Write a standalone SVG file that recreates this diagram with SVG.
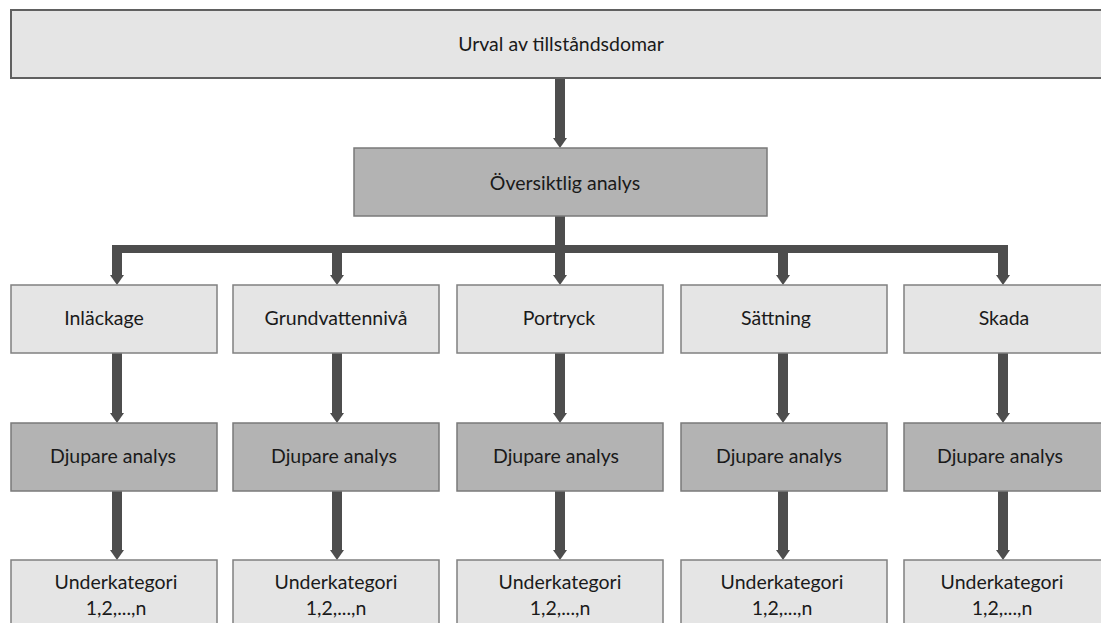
<svg xmlns="http://www.w3.org/2000/svg" width="1101" height="623" viewBox="0 0 1101 623">
<style>
.light{fill:#e5e5e5;stroke:#808080;stroke-width:1.5}
.dark{fill:#b3b3b3;stroke:#7a7a7a;stroke-width:1.5}
.top{fill:#e5e5e5;stroke:#606060;stroke-width:2}
.t{font-family:Lato,"Liberation Sans",sans-serif;font-size:19.5px;fill:#1a1a1a;text-anchor:middle}
.c line{stroke:#4d4d4d;stroke-width:10}
.c .bar{stroke-width:8}
</style>
<defs>
<marker id="ah" viewBox="0 0 10 14" refX="0" refY="7" markerWidth="10" markerHeight="14" markerUnits="userSpaceOnUse" orient="auto">
<path d="M0,0 L10,7 L0,14 z" fill="#4d4d4d"/>
</marker>
</defs>
<rect width="1101" height="623" fill="#ffffff"/>
<g id="connectors" class="c">
<line x1="560" y1="78" x2="560" y2="138" marker-end="url(#ah)"/>
<line x1="560" y1="216" x2="560" y2="275" marker-end="url(#ah)"/>
<line class="bar" x1="112" y1="249" x2="1008" y2="249"/>
<line x1="117" y1="249" x2="117" y2="275" marker-end="url(#ah)"/>
<line x1="337" y1="249" x2="337" y2="275" marker-end="url(#ah)"/>
<line x1="783" y1="249" x2="783" y2="275" marker-end="url(#ah)"/>
<line x1="1003" y1="249" x2="1003" y2="275" marker-end="url(#ah)"/>
<line x1="117" y1="353" x2="117" y2="413" marker-end="url(#ah)"/>
<line x1="337" y1="353" x2="337" y2="413" marker-end="url(#ah)"/>
<line x1="560" y1="353" x2="560" y2="413" marker-end="url(#ah)"/>
<line x1="783" y1="353" x2="783" y2="413" marker-end="url(#ah)"/>
<line x1="1003" y1="353" x2="1003" y2="413" marker-end="url(#ah)"/>
<line x1="117" y1="491" x2="117" y2="550" marker-end="url(#ah)"/>
<line x1="337" y1="491" x2="337" y2="550" marker-end="url(#ah)"/>
<line x1="560" y1="491" x2="560" y2="550" marker-end="url(#ah)"/>
<line x1="783" y1="491" x2="783" y2="550" marker-end="url(#ah)"/>
<line x1="1003" y1="491" x2="1003" y2="550" marker-end="url(#ah)"/>
</g>
<g id="urval"><rect class="top" x="11" y="10" width="1099" height="68"/><text class="t" x="561" y="51">Urval av tillståndsdomar</text></g>
<g id="oversiktlig"><rect class="dark" x="354" y="148" width="413" height="68"/><text class="t" x="565" y="190">Översiktlig analys</text></g>
<g id="inlackage"><rect class="light" x="11" y="285" width="206" height="68"/><text class="t" x="104" y="325">Inläckage</text></g>
<g id="grundvatten"><rect class="light" x="233" y="285" width="206" height="68"/><text class="t" x="336" y="325">Grundvattennivå</text></g>
<g id="portryck"><rect class="light" x="457" y="285" width="206" height="68"/><text class="t" x="559" y="325">Portryck</text></g>
<g id="sattning"><rect class="light" x="681" y="285" width="206" height="68"/><text class="t" x="776" y="325">Sättning</text></g>
<g id="skada"><rect class="light" x="904" y="285" width="206" height="68"/><text class="t" x="1004" y="325">Skada</text></g>
<g id="djup1"><rect class="dark" x="11" y="423" width="206" height="68"/><text class="t" x="113" y="463">Djupare analys</text></g>
<g id="djup2"><rect class="dark" x="233" y="423" width="206" height="68"/><text class="t" x="334" y="463">Djupare analys</text></g>
<g id="djup3"><rect class="dark" x="457" y="423" width="206" height="68"/><text class="t" x="556" y="463">Djupare analys</text></g>
<g id="djup4"><rect class="dark" x="681" y="423" width="206" height="68"/><text class="t" x="779" y="463">Djupare analys</text></g>
<g id="djup5"><rect class="dark" x="904" y="423" width="206" height="68"/><text class="t" x="1000" y="463">Djupare analys</text></g>
<g id="under1"><rect class="light" x="11" y="560" width="206" height="70"/><text class="t" x="116" y="589">Underkategori</text><text class="t" x="116" y="615">1,2,...,n</text></g>
<g id="under2"><rect class="light" x="233" y="560" width="206" height="70"/><text class="t" x="336" y="589">Underkategori</text><text class="t" x="336" y="615">1,2,...,n</text></g>
<g id="under3"><rect class="light" x="457" y="560" width="206" height="70"/><text class="t" x="560" y="589">Underkategori</text><text class="t" x="560" y="615">1,2,...,n</text></g>
<g id="under4"><rect class="light" x="681" y="560" width="206" height="70"/><text class="t" x="782" y="589">Underkategori</text><text class="t" x="782" y="615">1,2,...,n</text></g>
<g id="under5"><rect class="light" x="904" y="560" width="206" height="70"/><text class="t" x="1002" y="589">Underkategori</text><text class="t" x="1002" y="615">1,2,...,n</text></g>
</svg>
